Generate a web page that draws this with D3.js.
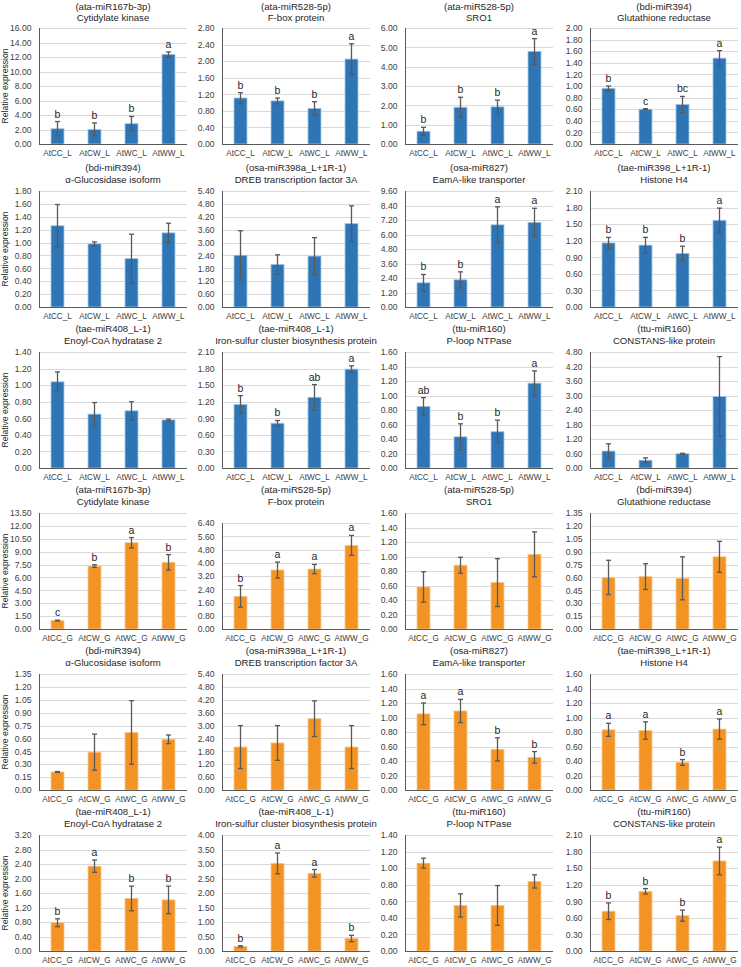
<!DOCTYPE html>
<html>
<head>
<meta charset="utf-8">
<script src="https://cdn.jsdelivr.net/npm/d3@7"></script>
<style>
  html, body { margin: 0; padding: 0; background: #ffffff; }
  svg { display: block; font-family: "Liberation Sans", Arial, sans-serif; }
</style>
</head>
<body>
<svg id="chart" width="741" height="967"></svg>
<script>
// ---------- DATA ----------
const leafGroups = ["AtCC_L", "AtCW_L", "AtWC_L", "AtWW_L"];
const grainGroups = ["AtCC_G", "AtCW_G", "AtWC_G", "AtWW_G"];

const miRNAs = ["(ata-miR167b-3p)", "(ata-miR528-5p)", "(ata-miR528-5p)", "(bdi-miR394)",
  "(bdi-miR394)", "(osa-miR398a_L+1R-1)", "(osa-miR827)", "(tae-miR398_L+1R-1)",
  "(tae-miR408_L-1)", "(tae-miR408_L-1)", "(ttu-miR160)", "(ttu-miR160)"];
const targetGenes = ["Cytidylate kinase", "F-box protein", "SRO1", "Glutathione reductase",
  "α-Glucosidase isoform", "DREB transcription factor 3A", "EamA-like transporter", "Histone H4",
  "Enoyl-CoA hydratase 2", "Iron-sulfur cluster biosynthesis protein", "P-loop NTPase", "CONSTANS-like protein"];

const leafMeans = [
  [2.1, 2.0, 2.8, 12.35],
  [1.11, 1.04, 0.86, 2.05],
  [0.66, 1.9, 1.92, 4.79],
  [0.96, 0.60, 0.68, 1.48],
  [1.26, 0.98, 0.75, 1.15],
  [2.41, 1.98, 2.37, 3.88],
  [2.0, 2.25, 6.8, 7.0],
  [1.16, 1.12, 0.97, 1.57],
  [1.04, 0.65, 0.69, 0.58],
  [1.15, 0.81, 1.28, 1.79],
  [0.85, 0.43, 0.50, 1.17],
  [0.70, 0.32, 0.59, 2.96]
];
const leafErrors = [
  [1.0, 0.9, 1.0, 0.35],
  [0.13, 0.07, 0.16, 0.37],
  [0.2, 0.52, 0.35, 0.66],
  [0.04, 0.01, 0.14, 0.13],
  [0.33, 0.03, 0.38, 0.15],
  [1.14, 0.45, 0.86, 0.83],
  [0.69, 0.66, 1.49, 1.17],
  [0.1, 0.14, 0.13, 0.22],
  [0.12, 0.14, 0.11, 0.01],
  [0.16, 0.05, 0.23, 0.06],
  [0.12, 0.18, 0.16, 0.17],
  [0.3, 0.1, 0.02, 1.65]
];
const leafLetters = [
  ["b", "b", "b", "a"], ["b", "b", "b", "a"], ["b", "b", "b", "a"], ["b", "c", "bc", "a"],
  [], [], ["b", "b", "a", "a"], ["b", "b", "b", "a"],
  [], ["b", "b", "ab", "a"], ["ab", "b", "b", "a"], []
];
const leafAxisMax = [16, 2.8, 6, 2, 1.8, 5.4, 9.6, 2.1, 1.4, 2.1, 1.6, 4.8];
const leafAxisStep = [2, 0.4, 1, 0.2, 0.2, 0.6, 1.2, 0.3, 0.2, 0.3, 0.2, 0.6];

const grainMeans = [
  [0.98, 7.32, 10.04, 7.76],
  [1.97, 3.56, 3.62, 5.05],
  [0.58, 0.88, 0.64, 1.03],
  [0.60, 0.61, 0.59, 0.84],
  [0.21, 0.44, 0.67, 0.59],
  [2.0, 2.19, 3.32, 2.0],
  [1.05, 1.09, 0.56, 0.45],
  [0.83, 0.82, 0.38, 0.84],
  [0.78, 2.34, 1.45, 1.41],
  [0.16, 3.02, 2.68, 0.43],
  [1.06, 0.55, 0.55, 0.84],
  [0.72, 1.08, 0.64, 1.63]
];
const grainErrors = [
  [0.05, 0.15, 0.6, 0.9],
  [0.65, 0.48, 0.28, 0.6],
  [0.21, 0.11, 0.33, 0.31],
  [0.2, 0.15, 0.25, 0.18],
  [0.005, 0.21, 0.37, 0.05],
  [1.0, 0.81, 0.83, 1.0],
  [0.15, 0.16, 0.16, 0.08],
  [0.09, 0.12, 0.04, 0.14],
  [0.11, 0.17, 0.34, 0.38],
  [0.02, 0.36, 0.13, 0.11],
  [0.06, 0.14, 0.24, 0.08],
  [0.15, 0.05, 0.1, 0.25]
];
const grainLetters = [
  ["c", "b", "a", "b"], ["b", "a", "a", "a"], [], [],
  [], [], ["a", "a", "b", "b"], ["a", "a", "b", "a"],
  ["b", "a", "b", "b"], ["b", "a", "a", "b"], [], ["b", "b", "b", "a"]
];
const grainAxisMax = [13.5, 6.4, 1.6, 1.35, 1.35, 5.4, 1.6, 1.6, 3.2, 4, 1.4, 2.1];
const grainAxisStep = [1.5, 0.8, 0.2, 0.15, 0.15, 0.6, 0.2, 0.2, 0.4, 0.5, 0.2, 0.3];

const yAxisTitle = "Relative expression";

// ---------- LAYOUT ----------
const colX = [39, 222, 405, 590];
const rowY = [28, 191, 352, 513, 674, 835];
const plotW = 148, plotH = 116;
const leafColor = "#2E75B6", leafEdge = "#9DC3E6";
const grainColor = "#F39324", grainEdge = "#F8C48A";
const FONT = "'Liberation Sans', Arial, sans-serif";

const svg = d3.select("#chart");
const fmt = d3.format(".2f");

function panel(k, tissue) {
  const isLeaf = tissue === "L";
  const idx = isLeaf ? k : k + 12;
  const row = Math.floor(idx / 4), col = idx % 4;
  const x0 = colX[col];
  const bottom = rowY[row] + plotH;
  const max = isLeaf ? leafAxisMax[k] : grainAxisMax[k];
  const step = isLeaf ? leafAxisStep[k] : grainAxisStep[k];
  const means = isLeaf ? leafMeans[k] : grainMeans[k];
  const errs = isLeaf ? leafErrors[k] : grainErrors[k];
  const letters = isLeaf ? leafLetters[k] : grainLetters[k];
  const groups = isLeaf ? leafGroups : grainGroups;
  const topShift = (!isLeaf && k === 1) ? 10 : 0;
  const top = rowY[row] + topShift;

  const g = svg.append("g");
  const y = d3.scaleLinear().domain([0, max]).range([bottom, top]);
  const x = d3.scaleBand().domain(groups).range([x0, x0 + plotW])
    .paddingInner(0.65).paddingOuter(0.325);

  const n = Math.round(max / step);
  const ticks = d3.range(0, n + 1).map(j => +(j * step).toFixed(4));

  // gridlines
  g.append("g").selectAll("line").data(ticks.filter(t => t > 0)).join("line")
    .attr("x1", x0).attr("x2", x0 + plotW)
    .attr("y1", d => Math.round(y(d)) + 0.5).attr("y2", d => Math.round(y(d)) + 0.5)
    .attr("stroke", "#d9d9d9").attr("stroke-width", 1);

  // y axis
  const yAxis = d3.axisLeft(y).tickValues(ticks).tickFormat(fmt).tickSize(0).tickPadding(8);
  const ya = g.append("g").attr("transform", `translate(${x0 + 0.5},0)`).call(yAxis);
  ya.select(".domain").attr("stroke", "#595959").attr("d", `M0,${top}V${bottom}`);
  ya.selectAll("text").attr("font-size", 8.6).attr("fill", "#404040").attr("font-family", FONT);

  // bars
  g.append("g").selectAll("rect").data(means).join("rect")
    .attr("x", (d, j) => x(groups[j]))
    .attr("width", x.bandwidth())
    .attr("y", d => y(d))
    .attr("height", d => bottom - y(d))
    .attr("fill", isLeaf ? leafColor : grainColor)
    .attr("stroke", isLeaf ? leafEdge : grainEdge).attr("stroke-width", 0.8);

  // x axis
  const xAxis = d3.axisBottom(x).tickSize(0).tickPadding(6);
  const xa = g.append("g").attr("transform", `translate(0,${bottom + 0.5})`).call(xAxis);
  xa.select(".domain").attr("stroke", "#595959").attr("d", `M${x0},0H${x0 + plotW}`);
  xa.selectAll("text").attr("font-size", 8.2).attr("fill", "#404040").attr("font-family", FONT);

  // error bars
  const eb = g.append("g").attr("stroke", "#595959").attr("stroke-width", 1.3);
  means.forEach((m, j) => {
    const cx = x(groups[j]) + x.bandwidth() / 2;
    const lo = y(Math.max(0, m - errs[j])), hi = y(m + errs[j]);
    eb.append("line").attr("x1", cx).attr("x2", cx).attr("y1", lo).attr("y2", hi);
    eb.append("line").attr("x1", cx - 2.5).attr("x2", cx + 2.5).attr("y1", lo).attr("y2", lo);
    eb.append("line").attr("x1", cx - 2.5).attr("x2", cx + 2.5).attr("y1", hi).attr("y2", hi);
  });

  // significance letters
  g.append("g").selectAll("text").data(letters).join("text")
    .attr("x", (d, j) => x(groups[j]) + x.bandwidth() / 2)
    .attr("y", (d, j) => y(means[j] + errs[j]) - 4)
    .attr("text-anchor", "middle").attr("font-size", 10.5).attr("fill", "#262626")
    .text(d => d);

  // titles
  const cxT = x0 + plotW / 2;
  const t1 = Math.max(rowY[row] - 20, 9.5);
  g.append("text").attr("x", cxT).attr("y", t1).attr("text-anchor", "middle")
    .attr("font-size", 9.6).attr("fill", "#262626").text(miRNAs[k]);
  g.append("text").attr("x", cxT).attr("y", t1 + 11.5).attr("text-anchor", "middle")
    .attr("font-size", 9.6).attr("fill", "#262626").text(targetGenes[k]);

  // y-axis title
  if (col === 0) {
    g.append("text")
      .attr("transform", `translate(8,${rowY[row] + plotH / 2}) rotate(-90)`)
      .attr("text-anchor", "middle").attr("font-size", 8.6).attr("fill", "#262626")
      .text(yAxisTitle);
  }
}

for (let i = 0; i < 12; i++) panel(i, "L");
for (let i = 0; i < 12; i++) panel(i, "G");
</script>
</body>
</html>
